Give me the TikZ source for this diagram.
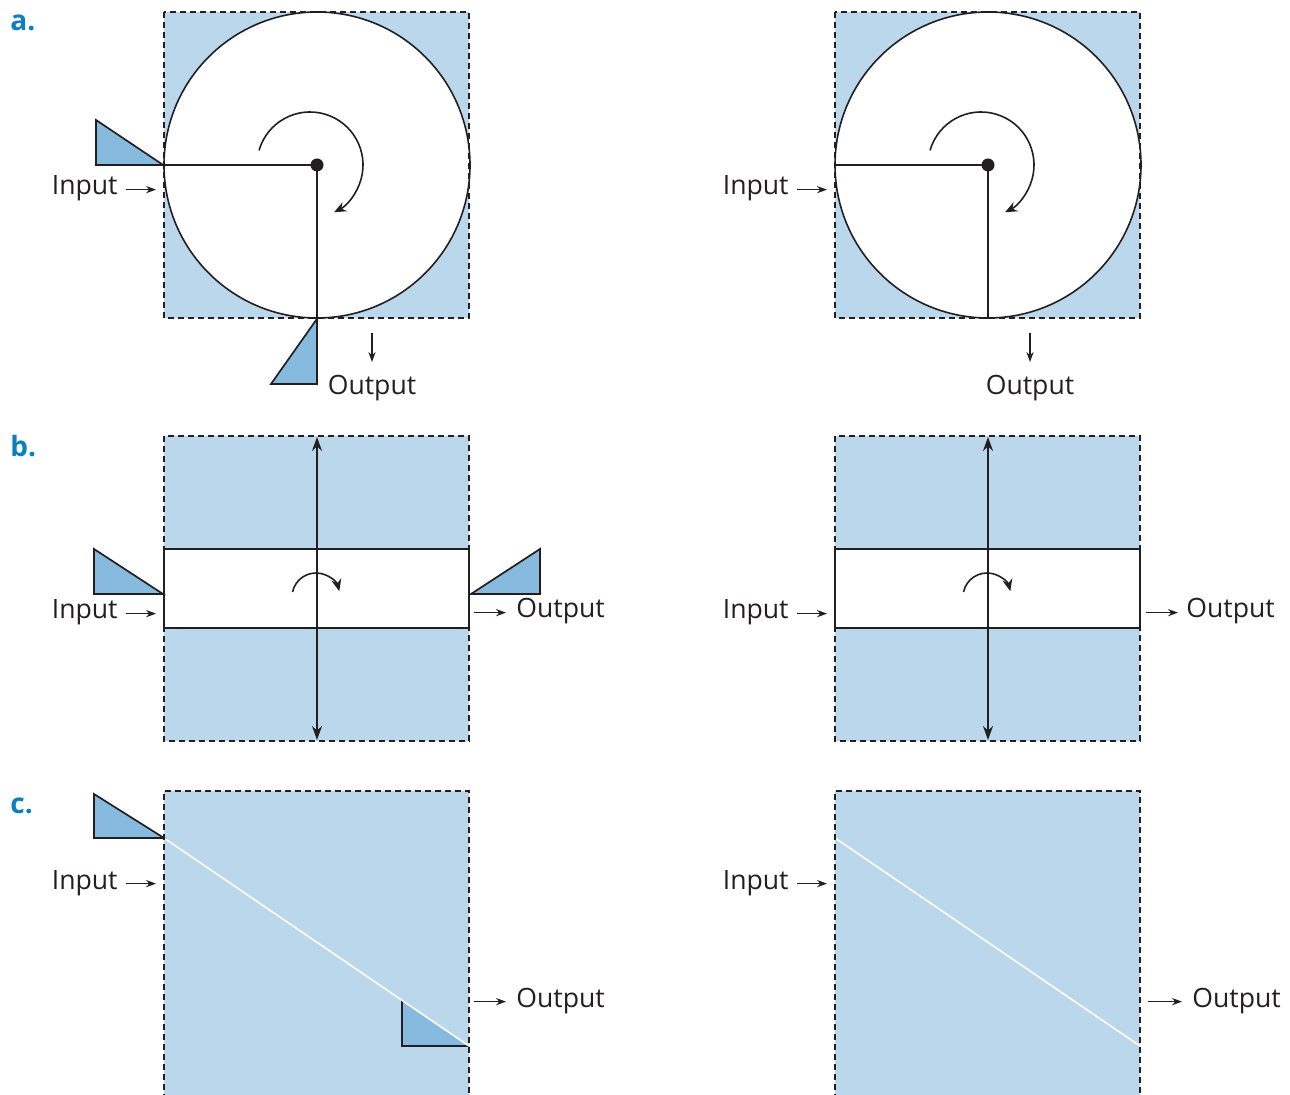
\documentclass[tikz,border=0pt]{standalone}
\usepackage{fontspec}
\setmainfont{Open Sans}
\usetikzlibrary{arrows.meta}
\definecolor{bgblue}{HTML}{BBD7EB}
\definecolor{prism}{HTML}{86BBDF}
\definecolor{lblue}{HTML}{0A80C0}
\definecolor{ink}{HTML}{231F20}
\tikzset{
 field/.style={fill=bgblue},
 border/.style={draw=ink, line width=1pt, dash pattern=on 3pt off 2pt},
 solidline/.style={draw=ink, line width=0.8pt},
 prismshape/.style={fill=prism, draw=ink, line width=0.85pt, line join=miter},
 lab/.style={font=\fontsize{13.3}{16}\selectfont, text=ink, inner sep=0pt},
 panel/.style={font=\bfseries\fontsize{14}{16}\selectfont, text=lblue, inner sep=0pt},
 flow/.style={draw=ink, -{Stealth[length=5pt,width=3.6pt]}, line width=0.55pt},
 rot/.style={draw=ink, -{Stealth[length=6pt,width=5pt]}, line width=0.8pt},
 axis/.style={draw=ink, {Stealth[length=7pt,width=5pt]}-{Stealth[length=7pt,width=5pt]}, line width=0.8pt},
 wheel/.style={circle, draw=ink, line width=0.8pt, fill=white, minimum size=153pt, inner sep=0pt},
 hub/.style={circle, fill=ink, minimum size=6.5pt, inner sep=0pt},
 slab/.style={rectangle, draw=ink, line width=0.8pt, fill=white, minimum width=152.5pt, minimum height=39.5pt, inner sep=0pt},
}
\begin{document}
\begin{tikzpicture}[x=0.5pt, y=-0.5pt]
\useasboundingbox (0,0) rectangle (1290,1095);

% ---------------- panel a, left ----------------
\node[panel, anchor=base west] (la) at (10,31) {a.};
\fill[field] (164,12) rectangle (469,318);
\node[wheel] (wa) at (317,165) {};
\draw[prismshape] (96,120) -- (96,165) -- (wa.west) -- cycle;
\draw[prismshape] (wa.south) -- (317,384) -- (271,384) -- cycle;
\node[hub] (ca) at (317,165) {};
\draw[solidline] (ca.center) -- (wa.west);
\draw[solidline] (ca.center) -- (wa.south);
\coordinate (ra) at (310,165);
\draw[rot] ([shift={(164:26.5pt)}]ra) arc[start angle=164, end angle=-63, radius=26.5pt];
\draw[border] (164,12) rectangle (469,318);
\node[lab, anchor=base east] (ina) at (118,195) {Input};
\draw[flow] ([xshift=4pt]ina.mid east) -- ++(15pt,0);
\node[lab, anchor=base] (outa) at (372,395) {Output};
\coordinate (oa) at (372,333);
\draw[flow] (oa) -- ++(0,29);

% ---------------- panel a, right ----------------
\fill[field] (835,12) rectangle (1140,318);
\node[wheel] (wa2) at (988,165) {};
\node[hub] (ca2) at (988,165) {};
\draw[solidline] (ca2.center) -- (wa2.west);
\draw[solidline] (ca2.center) -- (wa2.south);
\coordinate (ra2) at (981,165);
\draw[rot] ([shift={(164:26.5pt)}]ra2) arc[start angle=164, end angle=-63, radius=26.5pt];
\draw[border] (835,12) rectangle (1140,318);
\node[lab, anchor=base east] (ina2) at (789,195) {Input};
\draw[flow] ([xshift=4pt]ina2.mid east) -- ++(15pt,0);
\node[lab, anchor=base] (outa2) at (1030,395) {Output};
\coordinate (oa2) at (1030,333);
\draw[flow] (oa2) -- ++(0,29);

% ---------------- panel b, left ----------------
\node[panel, anchor=base west] (lb) at (10,457) {b.};
\fill[field] (164,436) rectangle (469,741);
\node[slab] (pb) at (316.5,588.5) {};
\draw[prismshape] (94,549) -- (94,594) -- (163,594) -- cycle;
\draw[prismshape] (471,594) -- (540,549) -- (540,594) -- cycle;
\coordinate (tb) at (317,437);
\coordinate (bb) at (317,740);
\draw[axis] (tb) -- (bb);
\coordinate (rb) at (316,597);
\draw[rot] ([shift={(168:12pt)}]rb) arc[start angle=168, end angle=14, radius=12pt];
\draw[border] (164,436) rectangle (469,741);
\node[lab, anchor=base east] (inb) at (118,619) {Input};
\draw[flow] ([xshift=4pt]inb.mid east) -- ++(15pt,0);
\node[lab, anchor=base west] (outb) at (516,618) {Output};
\draw[flow] ([xshift=-21pt]outb.mid west) -- ++(16pt,0);

% ---------------- panel b, right ----------------
\fill[field] (835,436) rectangle (1140,741);
\node[slab] (pb2) at (987.5,588.5) {};
\coordinate (tb2) at (988,437);
\coordinate (bb2) at (988,740);
\draw[axis] (tb2) -- (bb2);
\coordinate (rb2) at (987,597);
\draw[rot] ([shift={(168:12pt)}]rb2) arc[start angle=168, end angle=14, radius=12pt];
\draw[border] (835,436) rectangle (1140,741);
\node[lab, anchor=base east] (inb2) at (789,619) {Input};
\draw[flow] ([xshift=4pt]inb2.mid east) -- ++(15pt,0);
\node[lab, anchor=base west] (outb2) at (1186,618) {Output};
\draw[flow] ([xshift=-20pt]outb2.mid west) -- ++(16pt,0);

% ---------------- panel c, left ----------------
\node[panel, anchor=base west] (lc) at (10,813) {c.};
\fill[field] (164,791) rectangle (469,1110);
\draw[prismshape] (94,794) -- (94,838) -- (164,838) -- cycle;
\fill[prism] (402,1000) -- (402,1046) -- (469,1046) -- cycle;
\draw[solidline, line width=0.85pt] (402,1000) -- (402,1046) -- (469,1046);
\coordinate (sa) at (164,838);
\coordinate (sb) at (469,1046);
\draw[white, line width=0.8pt] (sa) -- (sb);
\draw[border] (164,1110) -- (164,791) -- (469,791) -- (469,1110);
\node[lab, anchor=base east] (inc) at (118,889) {Input};
\draw[flow] ([xshift=4pt]inc.mid east) -- ++(15pt,0);
\node[lab, anchor=base west] (outc) at (516,1007) {Output};
\draw[flow] ([xshift=-21pt]outc.mid west) -- ++(16pt,0);

% ---------------- panel c, right ----------------
\fill[field] (835,791) rectangle (1140,1110);
\coordinate (sa2) at (835,838);
\coordinate (sb2) at (1140,1046);
\draw[white, line width=0.8pt] (sa2) -- (sb2);
\draw[border] (835,1110) -- (835,791) -- (1140,791) -- (1140,1110);
\node[lab, anchor=base east] (inc2) at (789,889) {Input};
\draw[flow] ([xshift=4pt]inc2.mid east) -- ++(15pt,0);
\node[lab, anchor=base west] (outc2) at (1192,1007) {Output};
\draw[flow] ([xshift=-22pt]outc2.mid west) -- ++(17pt,0);
\end{tikzpicture}
\end{document}
